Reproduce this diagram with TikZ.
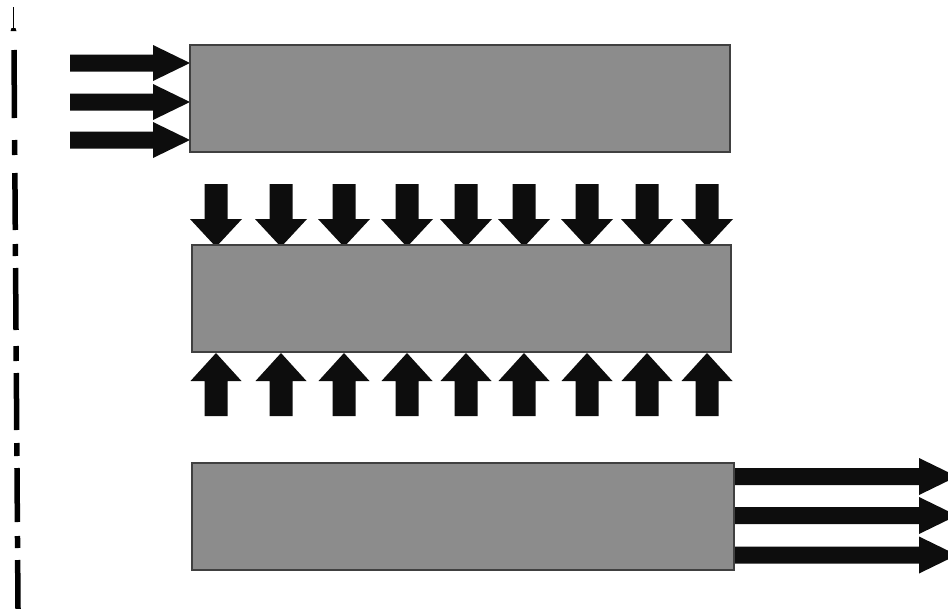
\documentclass[tikz,border=0pt]{standalone}
\begin{document}
\begin{tikzpicture}[x=1pt,y=-1pt,
  box/.style={draw=black!75,line width=1.3pt,fill=black!45,inner sep=0pt,minimum width=#1},
  arrowfill/.style={fill=black!95},
  axisdash/.style={line width=5.5pt,black},
  pics/barrow/.style n args={4}{code={
    \fill[arrowfill] (0,-#3) -- (#1-#2,-#3) -- (#1-#2,-#4) -- (#1,0) -- (#1-#2,#4) -- (#1-#2,#3) -- (0,#3) -- cycle;}}
]
\clip (0,0) rectangle (948,608);
\fill[white] (0,0) rectangle (948,608);

% axis (dash-dot line)
\draw[line width=1.2pt] (13.5,7) -- (13.5,29);
\fill (10.5,31) -- (11.5,28) -- (15.5,28) -- (16.5,31) -- cycle;
\foreach \a/\b in {50/118,140/155,173/230,244/256,268/330,346/361,373/430,443/456,468/522,536/548,560/612}{
  \draw[axisdash] ({14+4*(\a-50)/558},\a) -- ({14+4*(\b-50)/558},\b);
}

% input arrows (left)
\foreach \yy in {63,102,140}{
  \pic at (70,\yy) {barrow={120}{37}{8.5}{18}};
}
% pressing arrows
\foreach \xx in {216,281,344,407,466,524,587,647,707}{
  \pic[rotate=-90] at (\xx,184) {barrow={63}{28}{11.5}{26}};
  \pic[rotate=90] at (\xx,416) {barrow={63}{28}{11.5}{25.5}};
}
% output arrows (right)
\foreach \yy in {476.5,515.5,555}{
  \pic at (733,\yy) {barrow={224}{38}{8.5}{18.5}};
}

% plates
\node[box=540pt,minimum height=107pt] (b1) at (460,98.5) {};
\node[box=539pt,minimum height=107pt] (b2) at (461.5,298.5) {};
\node[box=542pt,minimum height=107pt] (b3) at (463,516.5) {};
\end{tikzpicture}
\end{document}
